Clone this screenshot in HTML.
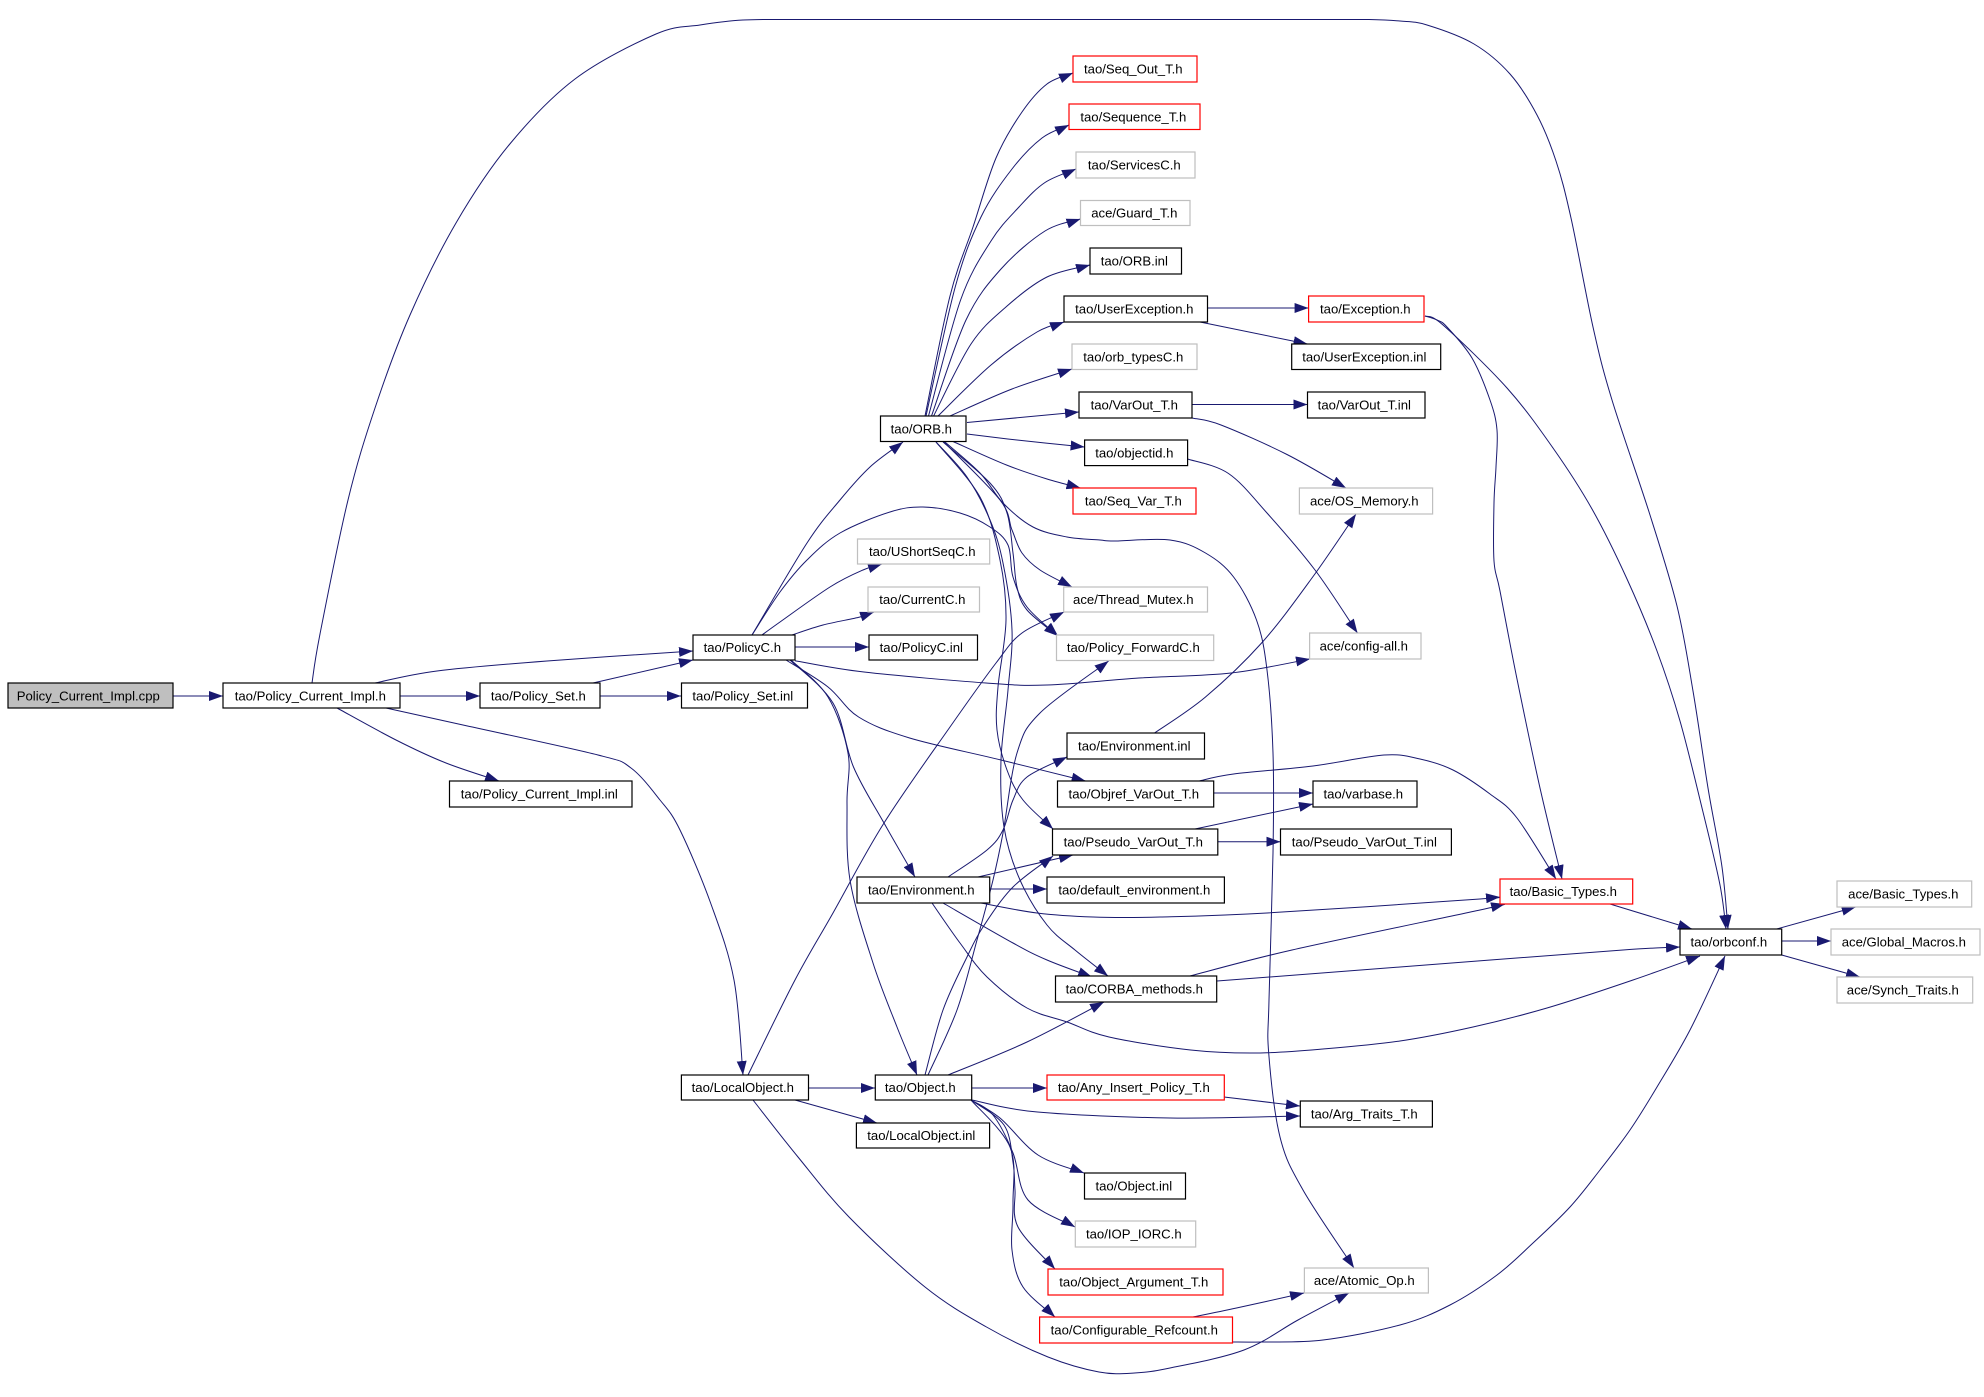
<!DOCTYPE html>
<html>
<head>
<meta charset="utf-8">
<title>Policy_Current_Impl.cpp include graph</title>
<style>
html,body{margin:0;padding:0;background:#fff;width:1984px;height:1397px;overflow:hidden}
svg{display:block}
.e polyline,.e path{fill:none;stroke:#191970;stroke-width:1;stroke-linejoin:round;marker-end:url(#a)}
rect{fill:#fff;stroke-width:1.2}
.k{stroke:#000}.r{stroke:#f00}.g{stroke:#bfbfbf}
text{font-family:"Liberation Sans",sans-serif;font-size:13.15px;fill:#000;text-anchor:middle;transform:translateX(-.7px)}
</style>
</head>
<body>
<svg width="1984" height="1397" viewBox="0 0 1984 1397" xmlns="http://www.w3.org/2000/svg">
<defs>
<marker id="a" markerUnits="userSpaceOnUse" markerWidth="14" markerHeight="10" viewBox="0 0 14 10" refX="14" refY="5" orient="auto"><path d="M0,0 L14,5 L0,10 z" fill="#191970"/></marker>
</defs>
<g class="e">
<polyline points="173,696 223,696"/>
<polyline points="400,696 480,696"/>
<polyline points="600,696 681,696"/>
<polyline points="312,683 320,634 348,500 375,408 410,315 456,223 509,145 575,79 656,34 700,25 743,20 800,19.5 900,19.5 1000,19.5 1100,19.5 1200,19.5 1300,19.5 1369,19.5 1400,21 1427,25 1474,44 1510,74 1537,115 1556,161 1571,218 1593,327 1612,400 1650,515 1677,606 1693,691 1708,788 1722,867 1728,929"/>
<polyline points="375,683 437,671 547,661 693,651"/>
<polyline points="593,683 693,660"/>
<polyline points="337,708 396,740 446,763 499,781"/>
<polyline points="386,708 463,725 598,755 631,768 660,800 680,830 710.6,903 734,980 743,1075"/>
<polyline points="925,416 950,296 973,227 996,158 1022,112 1047,84 1073,73"/>
<polyline points="926,416 955.5,286 981,217 1012,169 1042,138 1069,125"/>
<polyline points="928.5,416 960.6,300 991,241 1019,207 1045,182.5 1076,169"/>
<polyline points="931.5,416 966,320 1001,269 1045,231 1080.5,219"/>
<polyline points="933.6,416 971,344 1006.5,306.5 1047,277 1090,265"/>
<polyline points="938,416 991,365 1037,332 1064,322"/>
<polyline points="950,416 1012,389 1072,369"/>
<polyline points="967,422.5 1079,412"/>
<polyline points="967,434 1017,440 1084.6,447"/>
<polyline points="953,441.5 1006.5,465 1047,479 1080.5,488"/>
<polyline points="945,442 980,473 1003,503 1033,527 1067,537 1100,540 1114,541 1170,540 1205.5,553 1233.6,577 1256.5,620 1267,670 1273,753 1273,853 1269,1000 1268.7,1053 1280,1137 1303,1190 1354,1268"/>
<polyline points="944,442 1000,500 1012,530 1022,553 1040,570 1072,587"/>
<polyline points="943,442 990,483 1007,513 1013,553 1017,587 1027,610 1058,636"/>
<polyline points="936,442 967,477 990,520 1003,563 1012,630 1008,690 1001,760 1004,827 1020,880 1047,925 1075,950 1108,976"/>
<polyline points="936,442 980,497 1000,560 1006,620 998,687 997,730 1007,770 1023,800 1053,829"/>
<polyline points="752,635 807,543 840,500 870,467 903,442"/>
<polyline points="752,635 780,592 807,560 840,533 890,512 923,507 960,513 990,527 1008,545 1013,577 1027,607 1058,636"/>
<polyline points="762,635 780,622 830,587 863,570 882,564"/>
<polyline points="792,635 823,625 860,617 874,612"/>
<polyline points="795,647 869,647"/>
<polyline points="795,660.7 864,672 986,683 1047,685 1139,678 1231,673 1310,659"/>
<polyline points="786,660 828,687 858.6,717 909.6,738 1001,760 1085.6,781"/>
<polyline points="790,660 833,703 853.5,767 884,823 915,877"/>
<polyline points="791,660 828,697 848,753 847,803 850,880 873,963 897,1027 917,1075"/>
<polyline points="748,1075 795,980 833,913 884,823 950,727 996,663 1022,633 1064,612"/>
<polyline points="808,1088 875,1088"/>
<polyline points="795,1100 877,1123"/>
<polyline points="753,1100 798,1157 849,1217 925,1287 986.5,1327 1048,1357 1099,1372 1134.5,1373 1170,1368 1244,1350 1298,1320 1349,1293"/>
<polyline points="971.7,1088 1047,1088"/>
<polyline points="972,1100 1037.5,1112 1170,1118 1300,1116"/>
<polyline points="1224,1097 1300,1106"/>
<polyline points="971,1100 1000,1118 1038,1155 1084,1173"/>
<polyline points="971,1100 993,1115 1013,1153 1028,1200 1075,1227"/>
<polyline points="971,1100 1004,1125 1013,1162 1015,1190 1018,1227 1055,1269"/>
<polyline points="971,1100 1010,1147 1013,1203 1012,1250 1023,1287 1055,1317"/>
<polyline points="948,1075 1027,1042 1104,1002"/>
<polyline points="925,1075 943,1010 967,957 983,927 1013,887 1053,856"/>
<polyline points="928,1075 957,1010 977,940 993,880 1003,833 1017,753 1040,713 1108.6,661"/>
<polyline points="948,877 987,850 1003,830 1013,800 1027,777 1067,757"/>
<polyline points="989.7,889 1047,889"/>
<polyline points="943,903 1013,943 1047,960 1092,977"/>
<polyline points="978,877 1073,855"/>
<polyline points="981,903 1037,913 1093,917 1160,917 1267,913 1480,899 1500,897"/>
<polyline points="932,903 960,943 987,977 1027,1008 1067,1022 1109,1037 1190.6,1050 1257,1053 1323,1049 1400,1041 1473,1027 1547,1008 1633,980 1700,956"/>
<polyline points="1190,976 1292,950 1480,910 1505,904"/>
<polyline points="1217,981 1400,967 1623,950 1680,947"/>
<polyline points="1193,1317 1236.5,1308 1304,1293"/>
<polyline points="1232.5,1342 1262,1342 1323,1340 1400,1325 1450,1305 1497,1275 1533,1243 1570,1207 1600,1170 1630,1130 1657,1087 1690,1030 1725,956"/>
<polyline points="1207.5,308 1308.6,308"/>
<polyline points="1200,322 1307.5,344"/>
<polyline points="1192,404.5 1307.5,404.5"/>
<polyline points="1192,418 1221,425 1287,454.5 1346,488"/>
<polyline points="1187.6,459 1228.5,473.5 1267,513 1315,570 1357.5,633"/>
<polyline points="1154.5,733 1205.5,697 1261.6,643 1312.7,577 1356,514"/>
<polyline points="1213.7,793 1313,793"/>
<polyline points="1195,829 1313,804"/>
<polyline points="1217.8,841.7 1280.5,841.7"/>
<polyline points="1199,781 1233.6,774 1313,766 1384,755 1420,759 1453,770 1490,794 1517,818 1556,879"/>
<polyline points="1425,316 1437,320 1447,327 1472,358 1490,400 1497,430 1496,467 1494,503 1494,561 1500,591 1517,679 1540,788 1562,879"/>
<polyline points="1425,316 1443,325 1507,388 1553,448 1592,509 1627,579 1657,651 1680,721 1703,812 1720,885 1726,929"/>
<polyline points="1610,904 1692,929"/>
<polyline points="1776.7,929 1855.7,907"/>
<polyline points="1781.7,941 1831,941"/>
<polyline points="1781.7,955 1860,977"/>
</g>
<g>
<rect x="8" y="683" width="165" height="25" class="k" style="fill:#bfbfbf"/><text x="89" y="700.5">Policy_Current_Impl.cpp</text>
<rect x="223" y="683" width="177" height="25" class="k"/><text x="311" y="700.5">tao/Policy_Current_Impl.h</text>
<rect x="480" y="683" width="120" height="25" class="k"/><text x="539" y="700.5">tao/Policy_Set.h</text>
<rect x="449.5" y="781" width="182.5" height="26" class="k"/><text x="540" y="798.5">tao/Policy_Current_Impl.inl</text>
<rect x="1073" y="56" width="124" height="26" class="r"/><text x="1134" y="73.5">tao/Seq_Out_T.h</text>
<rect x="1069" y="104" width="131" height="25.5" class="r"/><text x="1134" y="121.5">tao/Sequence_T.h</text>
<rect x="1076" y="152" width="119" height="26" class="g"/><text x="1135" y="169.5">tao/ServicesC.h</text>
<rect x="1080.5" y="200.5" width="109.5" height="25" class="g"/><text x="1135" y="217.5">ace/Guard_T.h</text>
<rect x="1090" y="248" width="91.5" height="26" class="k"/><text x="1135" y="265.5">tao/ORB.inl</text>
<rect x="1064" y="296" width="143.5" height="26" class="k"/><text x="1135" y="313.5">tao/UserException.h</text>
<rect x="1072" y="344" width="125" height="25.5" class="g"/><text x="1134" y="361.5">tao/orb_typesC.h</text>
<rect x="1079" y="392" width="113" height="26" class="k"/><text x="1135" y="409.5">tao/VarOut_T.h</text>
<rect x="1084.6" y="440" width="103" height="25.6" class="k"/><text x="1135" y="457.5">tao/objectid.h</text>
<rect x="1073" y="488" width="123" height="26" class="r"/><text x="1134" y="505.5">tao/Seq_Var_T.h</text>
<rect x="880.5" y="416" width="85.5" height="25.5" class="k"/><text x="922" y="433.5">tao/ORB.h</text>
<rect x="1308.6" y="296" width="115.4" height="26" class="r"/><text x="1366" y="313.5">tao/Exception.h</text>
<rect x="1291.7" y="344" width="149" height="25.5" class="k"/><text x="1365" y="361.5">tao/UserException.inl</text>
<rect x="1307.5" y="392" width="117.5" height="26" class="k"/><text x="1365" y="409.5">tao/VarOut_T.inl</text>
<rect x="1299.4" y="488" width="133.2" height="26" class="g"/><text x="1365" y="505.5">ace/OS_Memory.h</text>
<rect x="857.5" y="539" width="132.2" height="25" class="g"/><text x="923" y="556">tao/UShortSeqC.h</text>
<rect x="868" y="587" width="111.5" height="25" class="g"/><text x="923" y="604">tao/CurrentC.h</text>
<rect x="869" y="635" width="108.5" height="25" class="k"/><text x="922" y="652">tao/PolicyC.inl</text>
<rect x="693" y="635" width="102" height="25" class="k"/><text x="743" y="652">tao/PolicyC.h</text>
<rect x="1063.7" y="587" width="143.8" height="25" class="g"/><text x="1134" y="604">ace/Thread_Mutex.h</text>
<rect x="1056.5" y="635" width="157.2" height="25.5" class="g"/><text x="1134" y="652">tao/Policy_ForwardC.h</text>
<rect x="1309.6" y="633" width="111.4" height="26" class="g"/><text x="1364.5" y="650.5">ace/config-all.h</text>
<rect x="681.5" y="683" width="126" height="25" class="k"/><text x="743.5" y="700.5">tao/Policy_Set.inl</text>
<rect x="1067" y="733" width="137.5" height="26" class="k"/><text x="1135" y="750.5">tao/Environment.inl</text>
<rect x="1057.5" y="781" width="156.2" height="26" class="k"/><text x="1134.5" y="798.5">tao/Objref_VarOut_T.h</text>
<rect x="1313" y="781" width="104" height="26" class="k"/><text x="1364" y="798.5">tao/varbase.h</text>
<rect x="1052.5" y="829" width="165.3" height="26" class="k"/><text x="1134" y="846.5">tao/Pseudo_VarOut_T.h</text>
<rect x="1280.5" y="829" width="170.9" height="26" class="k"/><text x="1365" y="846.5">tao/Pseudo_VarOut_T.inl</text>
<rect x="857" y="877" width="132.7" height="26" class="k"/><text x="922" y="894.5">tao/Environment.h</text>
<rect x="1047" y="877" width="177.4" height="26" class="k"/><text x="1135" y="894.5">tao/default_environment.h</text>
<rect x="1055.5" y="976" width="161.2" height="26" class="k"/><text x="1135" y="993.5">tao/CORBA_methods.h</text>
<rect x="681.4" y="1075" width="127.1" height="25" class="k"/><text x="743.5" y="1092">tao/LocalObject.h</text>
<rect x="875.3" y="1075" width="96.4" height="25" class="k"/><text x="921" y="1092">tao/Object.h</text>
<rect x="1047" y="1075" width="177.3" height="25" class="r"/><text x="1134.5" y="1092">tao/Any_Insert_Policy_T.h</text>
<rect x="1300.3" y="1101" width="132.1" height="26" class="k"/><text x="1365" y="1118.5">tao/Arg_Traits_T.h</text>
<rect x="856.4" y="1123" width="133.2" height="25" class="k"/><text x="922" y="1140">tao/LocalObject.inl</text>
<rect x="1084.5" y="1173" width="101" height="26" class="k"/><text x="1134.5" y="1190.5">tao/Object.inl</text>
<rect x="1075.3" y="1221" width="120.4" height="26" class="g"/><text x="1134.5" y="1238.5">tao/IOP_IORC.h</text>
<rect x="1048" y="1269" width="175" height="26" class="r"/><text x="1134.5" y="1286.5">tao/Object_Argument_T.h</text>
<rect x="1039.6" y="1317" width="192.9" height="26" class="r"/><text x="1135" y="1334.5">tao/Configurable_Refcount.h</text>
<rect x="1304.4" y="1268" width="124" height="25" class="g"/><text x="1365" y="1285">ace/Atomic_Op.h</text>
<rect x="1500" y="879" width="132.7" height="25" class="r"/><text x="1564" y="896">tao/Basic_Types.h</text>
<rect x="1680" y="929" width="101.7" height="26" class="k"/><text x="1729.5" y="946.5">tao/orbconf.h</text>
<rect x="1837" y="881" width="134.7" height="26" class="g"/><text x="1904" y="898.5">ace/Basic_Types.h</text>
<rect x="1831" y="929" width="149" height="26" class="g"/><text x="1904.5" y="946.5">ace/Global_Macros.h</text>
<rect x="1837" y="977" width="135.7" height="26" class="g"/><text x="1903.5" y="994.5">ace/Synch_Traits.h</text>
</g>
</svg>
<script>
document.querySelectorAll('.e polyline').forEach(function(pl){
  var p=pl.getAttribute('points').trim().split(/\s+/).map(function(s){return s.split(',').map(Number)});
  if(p.length<3)return;
  var d='M'+p[0][0]+','+p[0][1];
  for(var i=0;i<p.length-1;i++){
    var a=p[i-1]||p[i],b=p[i],c=p[i+1],e=p[i+2]||c;
    d+=' C'+(b[0]+(c[0]-a[0])/6).toFixed(1)+','+(b[1]+(c[1]-a[1])/6).toFixed(1)+' '+(c[0]-(e[0]-b[0])/6).toFixed(1)+','+(c[1]-(e[1]-b[1])/6).toFixed(1)+' '+c[0]+','+c[1];
  }
  var q=document.createElementNS('http://www.w3.org/2000/svg','path');
  q.setAttribute('d',d);
  pl.parentNode.replaceChild(q,pl);
});
</script>
</body>
</html>
